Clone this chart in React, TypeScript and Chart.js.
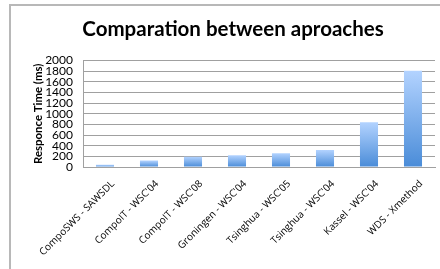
import React, { useEffect, useRef } from "react";
import { Chart, registerables } from "chart.js";

Chart.register(...registerables);

const categories = [
  "CompoSWS - SAWSDL",
  "CompoIT - WSC'04",
  "CompoIT - WSC'08",
  "Groningen - WSC'04",
  "Tsinghua - WSC'05",
  "Tsinghua - WSC'04",
  "Kassel - WSC'04",
  "WDS - Xmethod",
];
const responseTimes = [40, 120, 195, 220, 260, 320, 840, 1810];
const yTicks = [0, 200, 400, 600, 800, 1000, 1200, 1400, 1600, 1800, 2000];

export default function App() {
  const ref = useRef<HTMLCanvasElement | null>(null);

  useEffect(() => {
    if (!ref.current) return;
    const chart = new Chart(ref.current, {
      type: "bar",
      data: {
        labels: categories,
        datasets: [
          {
            data: responseTimes,
            backgroundColor: (c: any) => {
              const ch = c.chart;
              const ys = ch.scales && ch.scales.y;
              if (!ys || c.dataIndex === undefined || !ch.chartArea) return "#7aaef0";
              const v = c.raw as number;
              const top = ys.getPixelForValue(v);
              const bot = ys.getPixelForValue(0);
              if (!isFinite(top) || !isFinite(bot) || top === bot) return "#7aaef0";
              const g = ch.ctx.createLinearGradient(0, top, 0, bot);
              g.addColorStop(0, "#b3d3ff");
              g.addColorStop(1, "#4a8cd8");
              return g;
            },
            borderWidth: 0,
            categoryPercentage: 1,
            barPercentage: 0.41,
          },
        ],
      },
      options: {
        animation: false,
        responsive: false,
        layout: { padding: { left: 31, right: 5, top: 0, bottom: 0 } },
        plugins: {
          legend: { display: false },
          tooltip: { enabled: false },
          title: {
            display: true,
            text: "Comparation between aproaches",
            color: "#000",
            font: { family: "Lato", size: 20.5, weight: "bold" },
            padding: { top: 17, bottom: 19 },
          },
        },
        scales: {
          x: {
            grid: { display: false, drawTicks: false },
            border: { display: true, color: "#a0a0a0" },
            ticks: {
              color: "#000",
              font: { family: "Open Sans", size: 10 },
              minRotation: 45,
              maxRotation: 45,
              padding: 11,
              labelOffset: 8,
              autoSkip: false,
            },
            afterFit: (s: any) => {
              s.height = 102;
            },
          },
          y: {
            min: 0,
            max: 2000,
            afterBuildTicks: (s: any) => {
              s.ticks = yTicks.map((v) => ({ value: v }));
            },
            grid: { color: "#a0a0a0", drawTicks: false },
            border: { display: true, color: "#a0a0a0" },
            ticks: {
              color: "#000",
              font: { family: "Lato", size: 12 },
              padding: 10,
              autoSkip: false,
              callback: (v: any) => String(v),
            },
            title: {
              display: true,
              text: "Responce Time (ms)",
              color: "#000",
              font: { family: "Lato", size: 11.4, weight: "bold" },
              padding: 0,
            },
            afterFit: (s: any) => {
              s.width = 52;
            },
          },
        },
      },
    });
    return () => chart.destroy();
  }, []);

  return (
    <div style={{ position: "fixed", left: 0, top: 0, width: 440, height: 269, background: "#fff", overflow: "hidden" }}>
      <div
        style={{
          position: "absolute",
          left: 9,
          top: 4,
          width: 500,
          height: 400,
          border: "2px solid #b8b8b8",
          boxSizing: "border-box",
        }}
      />
      <canvas ref={ref} width={440} height={269} style={{ position: "absolute", left: 0, top: 0 }} />
    </div>
  );
}
